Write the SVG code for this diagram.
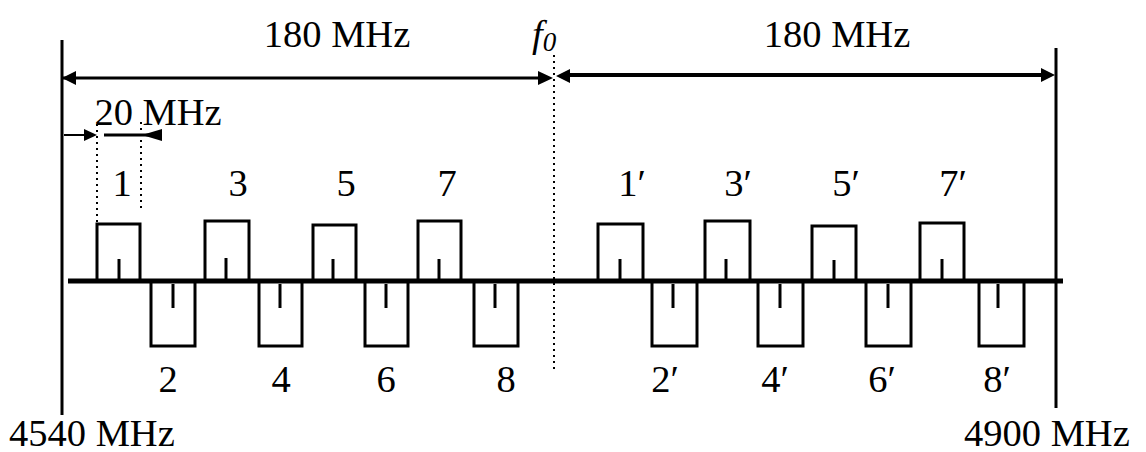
<svg xmlns="http://www.w3.org/2000/svg" width="1146" height="452" viewBox="0 0 1146 452">
<style>
text{font-family:"Liberation Serif","Times New Roman",serif;font-size:38.5px;fill:#000}
.m{text-anchor:middle}
.box{fill:none;stroke:#000;stroke-width:3}
.tick{stroke:#000;stroke-width:3}
.ln{stroke:#000;fill:none}
.dot{stroke:#000;stroke-width:2;stroke-dasharray:2 4;fill:none}
</style>
<rect width="1146" height="452" fill="#fff"/>
<g id="connectors">
<line class="ln" x1="62" y1="40" x2="62" y2="415" stroke-width="3"/>
<line class="ln" x1="1056" y1="48" x2="1056" y2="408" stroke-width="3"/>
<line class="ln" x1="62" y1="78" x2="540" y2="78" stroke-width="3"/>
<polygon points="62,78 76,71 76,85"/>
<polygon points="553,78 538,71 538,85"/>
<line class="ln" x1="568" y1="75" x2="1042" y2="75" stroke-width="4"/>
<polygon points="556,76 570,69 570,83"/>
<polygon points="1055,75 1041,68 1041,82"/>
<line class="dot" x1="554" y1="55" x2="554" y2="372"/>
<line class="ln" x1="64" y1="135" x2="85" y2="135" stroke-width="2"/>
<polygon points="97,135 84,129 84,141"/>
<line class="ln" x1="104" y1="135" x2="160" y2="135" stroke-width="3"/>
<polygon points="142,135 162,129 162,141"/>
<line class="dot" x1="97" y1="124" x2="97" y2="226"/>
<line class="dot" x1="141" y1="122" x2="141" y2="212"/>
<line class="ln" x1="68" y1="281" x2="1063" y2="281" stroke-width="5"/>
</g>
<g id="labels">
<text class="m" x="337" y="47">180 MHz</text>
<text class="m" x="837" y="47">180 MHz</text>
<text x="532" y="47" font-style="italic">f<tspan font-size="27" dy="4">0</tspan></text>
<text class="m" x="158" y="125">20 MHz</text>
<text x="9" y="446">4540 MHz</text>
<text x="964" y="446">4900 MHz</text>
</g>
<g id="ch1"><rect class="box" x="97" y="224" width="43" height="57"/><line class="tick" x1="119" y1="259" x2="119" y2="281"/><text class="m" x="122" y="196">1</text></g>
<g id="ch3"><rect class="box" x="205" y="221" width="44" height="60"/><line class="tick" x1="226" y1="258" x2="226" y2="281"/><text class="m" x="238" y="196">3</text></g>
<g id="ch5"><rect class="box" x="313" y="225" width="43" height="56"/><line class="tick" x1="333" y1="259" x2="333" y2="281"/><text class="m" x="346" y="196">5</text></g>
<g id="ch7"><rect class="box" x="418" y="221" width="43" height="60"/><line class="tick" x1="439" y1="259" x2="439" y2="281"/><text class="m" x="447" y="196">7</text></g>
<g id="ch2"><rect class="box" x="151" y="281" width="44" height="65"/><line class="tick" x1="173" y1="284" x2="173" y2="308"/><text class="m" x="168" y="392">2</text></g>
<g id="ch4"><rect class="box" x="259" y="281" width="43" height="65"/><line class="tick" x1="280" y1="284" x2="280" y2="308"/><text class="m" x="281" y="392">4</text></g>
<g id="ch6"><rect class="box" x="365" y="281" width="43" height="65"/><line class="tick" x1="386" y1="284" x2="386" y2="308"/><text class="m" x="386" y="392">6</text></g>
<g id="ch8"><rect class="box" x="474" y="281" width="44" height="65"/><line class="tick" x1="495" y1="284" x2="495" y2="308"/><text class="m" x="506" y="392">8</text></g>
<g id="ch1p"><rect class="box" x="598" y="224" width="45" height="57"/><line class="tick" x1="620" y1="259" x2="620" y2="281"/><text class="m" x="632" y="196">1′</text></g>
<g id="ch3p"><rect class="box" x="705" y="221" width="45" height="60"/><line class="tick" x1="726" y1="259" x2="726" y2="281"/><text class="m" x="738" y="196">3′</text></g>
<g id="ch5p"><rect class="box" x="812" y="226" width="44" height="55"/><line class="tick" x1="834" y1="260" x2="834" y2="281"/><text class="m" x="846" y="196">5′</text></g>
<g id="ch7p"><rect class="box" x="920" y="223" width="44" height="58"/><line class="tick" x1="942" y1="259" x2="942" y2="281"/><text class="m" x="953" y="196">7′</text></g>
<g id="ch2p"><rect class="box" x="652" y="281" width="45" height="65"/><line class="tick" x1="673" y1="284" x2="673" y2="308"/><text class="m" x="665" y="392">2′</text></g>
<g id="ch4p"><rect class="box" x="758" y="281" width="45" height="65"/><line class="tick" x1="780" y1="284" x2="780" y2="308"/><text class="m" x="775" y="392">4′</text></g>
<g id="ch6p"><rect class="box" x="866" y="281" width="45" height="65"/><line class="tick" x1="888" y1="284" x2="888" y2="308"/><text class="m" x="882" y="392">6′</text></g>
<g id="ch8p"><rect class="box" x="979" y="281" width="45" height="65"/><line class="tick" x1="998" y1="284" x2="998" y2="308"/><text class="m" x="997" y="392">8′</text></g>
</svg>
